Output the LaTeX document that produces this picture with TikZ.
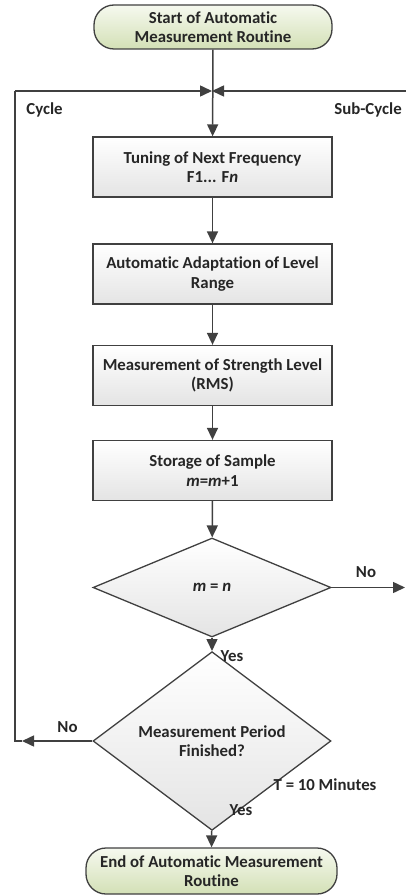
\documentclass[tikz,border=0pt]{standalone}
\usepackage{fontspec}
\setmainfont{Carlito}[Ligatures={NoCommon}]
\usetikzlibrary{arrows.meta,shapes.geometric,positioning}
\definecolor{lc}{HTML}{404040}
\definecolor{termtop}{HTML}{F6F9EF}
\definecolor{termbot}{HTML}{D3E0B6}
\definecolor{boxtop}{HTML}{FFFFFF}
\definecolor{boxbot}{HTML}{E4E4E4}
\begin{document}
\begin{tikzpicture}[x=1pt,y=-1pt,
  font=\fontsize{16.8}{19.5}\selectfont\bfseries,
  every node/.style={text=black!85},
  terminal/.style={draw=lc,line width=1.3pt,rectangle,rounded corners=20pt,
    top color=termtop,bottom color=termbot,minimum width=238pt,minimum height=44pt,
    align=center,inner sep=2pt},
  procbox/.style={draw=lc,line width=1.3pt,rectangle,top color=boxtop,bottom color=boxbot,
    minimum width=239pt,minimum height=60pt,align=center,inner sep=2pt},
  decis/.style={draw=lc,line width=1.3pt,diamond,top color=boxtop,bottom color=boxbot,
    minimum width=238pt,align=center,inner sep=0pt},
  conn/.style={draw=lc,line width=1.5pt},
  arr/.style={conn,-{Triangle[length=12pt,width=11pt]}},
  lbl/.style={inner sep=0pt}
]
\useasboundingbox (0,0) rectangle (406,896);
\node[terminal] (start) at (213,27) {Start of Automatic\\Measurement Routine};
\node[procbox] (b1) at (212.5,167) {Tuning of Next Frequency\\F1... F\textit{n}};
\node[procbox] (b2) at (212.5,274) {Automatic Adaptation of Level\\Range};
\node[procbox] (b3) at (212.5,375.5) {Measurement of Strength Level\\(RMS)};
\node[procbox] (b4) at (212.5,470.5) {Storage of Sample\\\textit{m}=\textit{m}+1};
\node[decis,minimum height=99pt] (d1) at (212,587.5) {\textit{m} = \textit{n}};
\node[decis,minimum height=112pt] (d2) at (212,741) {Measurement Period\\Finished?};
\node[terminal,minimum width=251pt,minimum height=46pt] (end) at (211.5,871) {End of Automatic Measurement\\Routine};

\coordinate (j) at (212,91);
\coordinate (cTL) at (15,91);
\coordinate (cBL) at (15,741);
\coordinate (tipL) at (22,741);
\coordinate (cTR) at (406,91);
\coordinate (tipR) at (405,587.5);

\draw[arr] (start) -- (b1);
\draw[arr] (b1) -- (b2);
\draw[arr] (b2) -- (b3);
\draw[arr] (b3) -- (b4);
\draw[arr] (b4) -- (d1);
\draw[arr] (d1) -- (d2);
\draw[arr] (d2) -- (end);
\draw[arr] (d1.east) -- (tipR);
\draw[arr] (d2.west) -- (tipL);
\draw[conn] (tipL) -- (cBL) -- (cTL);
\draw[arr] (cTL) -- (j);
\draw[arr] (cTR) -- (j);

\node[lbl] (lcyc) at (44.5,110) {Cycle};
\node[lbl] (lsub) at (368,110) {Sub-Cycle};
\node[lbl] (lno1) at (366,572) {No};
\node[lbl] (lyes1) at (232,656) {Yes};
\node[lbl] (lno2) at (67.5,727) {No};
\node[lbl] (lt) at (325,785) {T = 10 Minutes};
\node[lbl] (lyes2) at (241,810) {Yes};
\end{tikzpicture}
\end{document}
